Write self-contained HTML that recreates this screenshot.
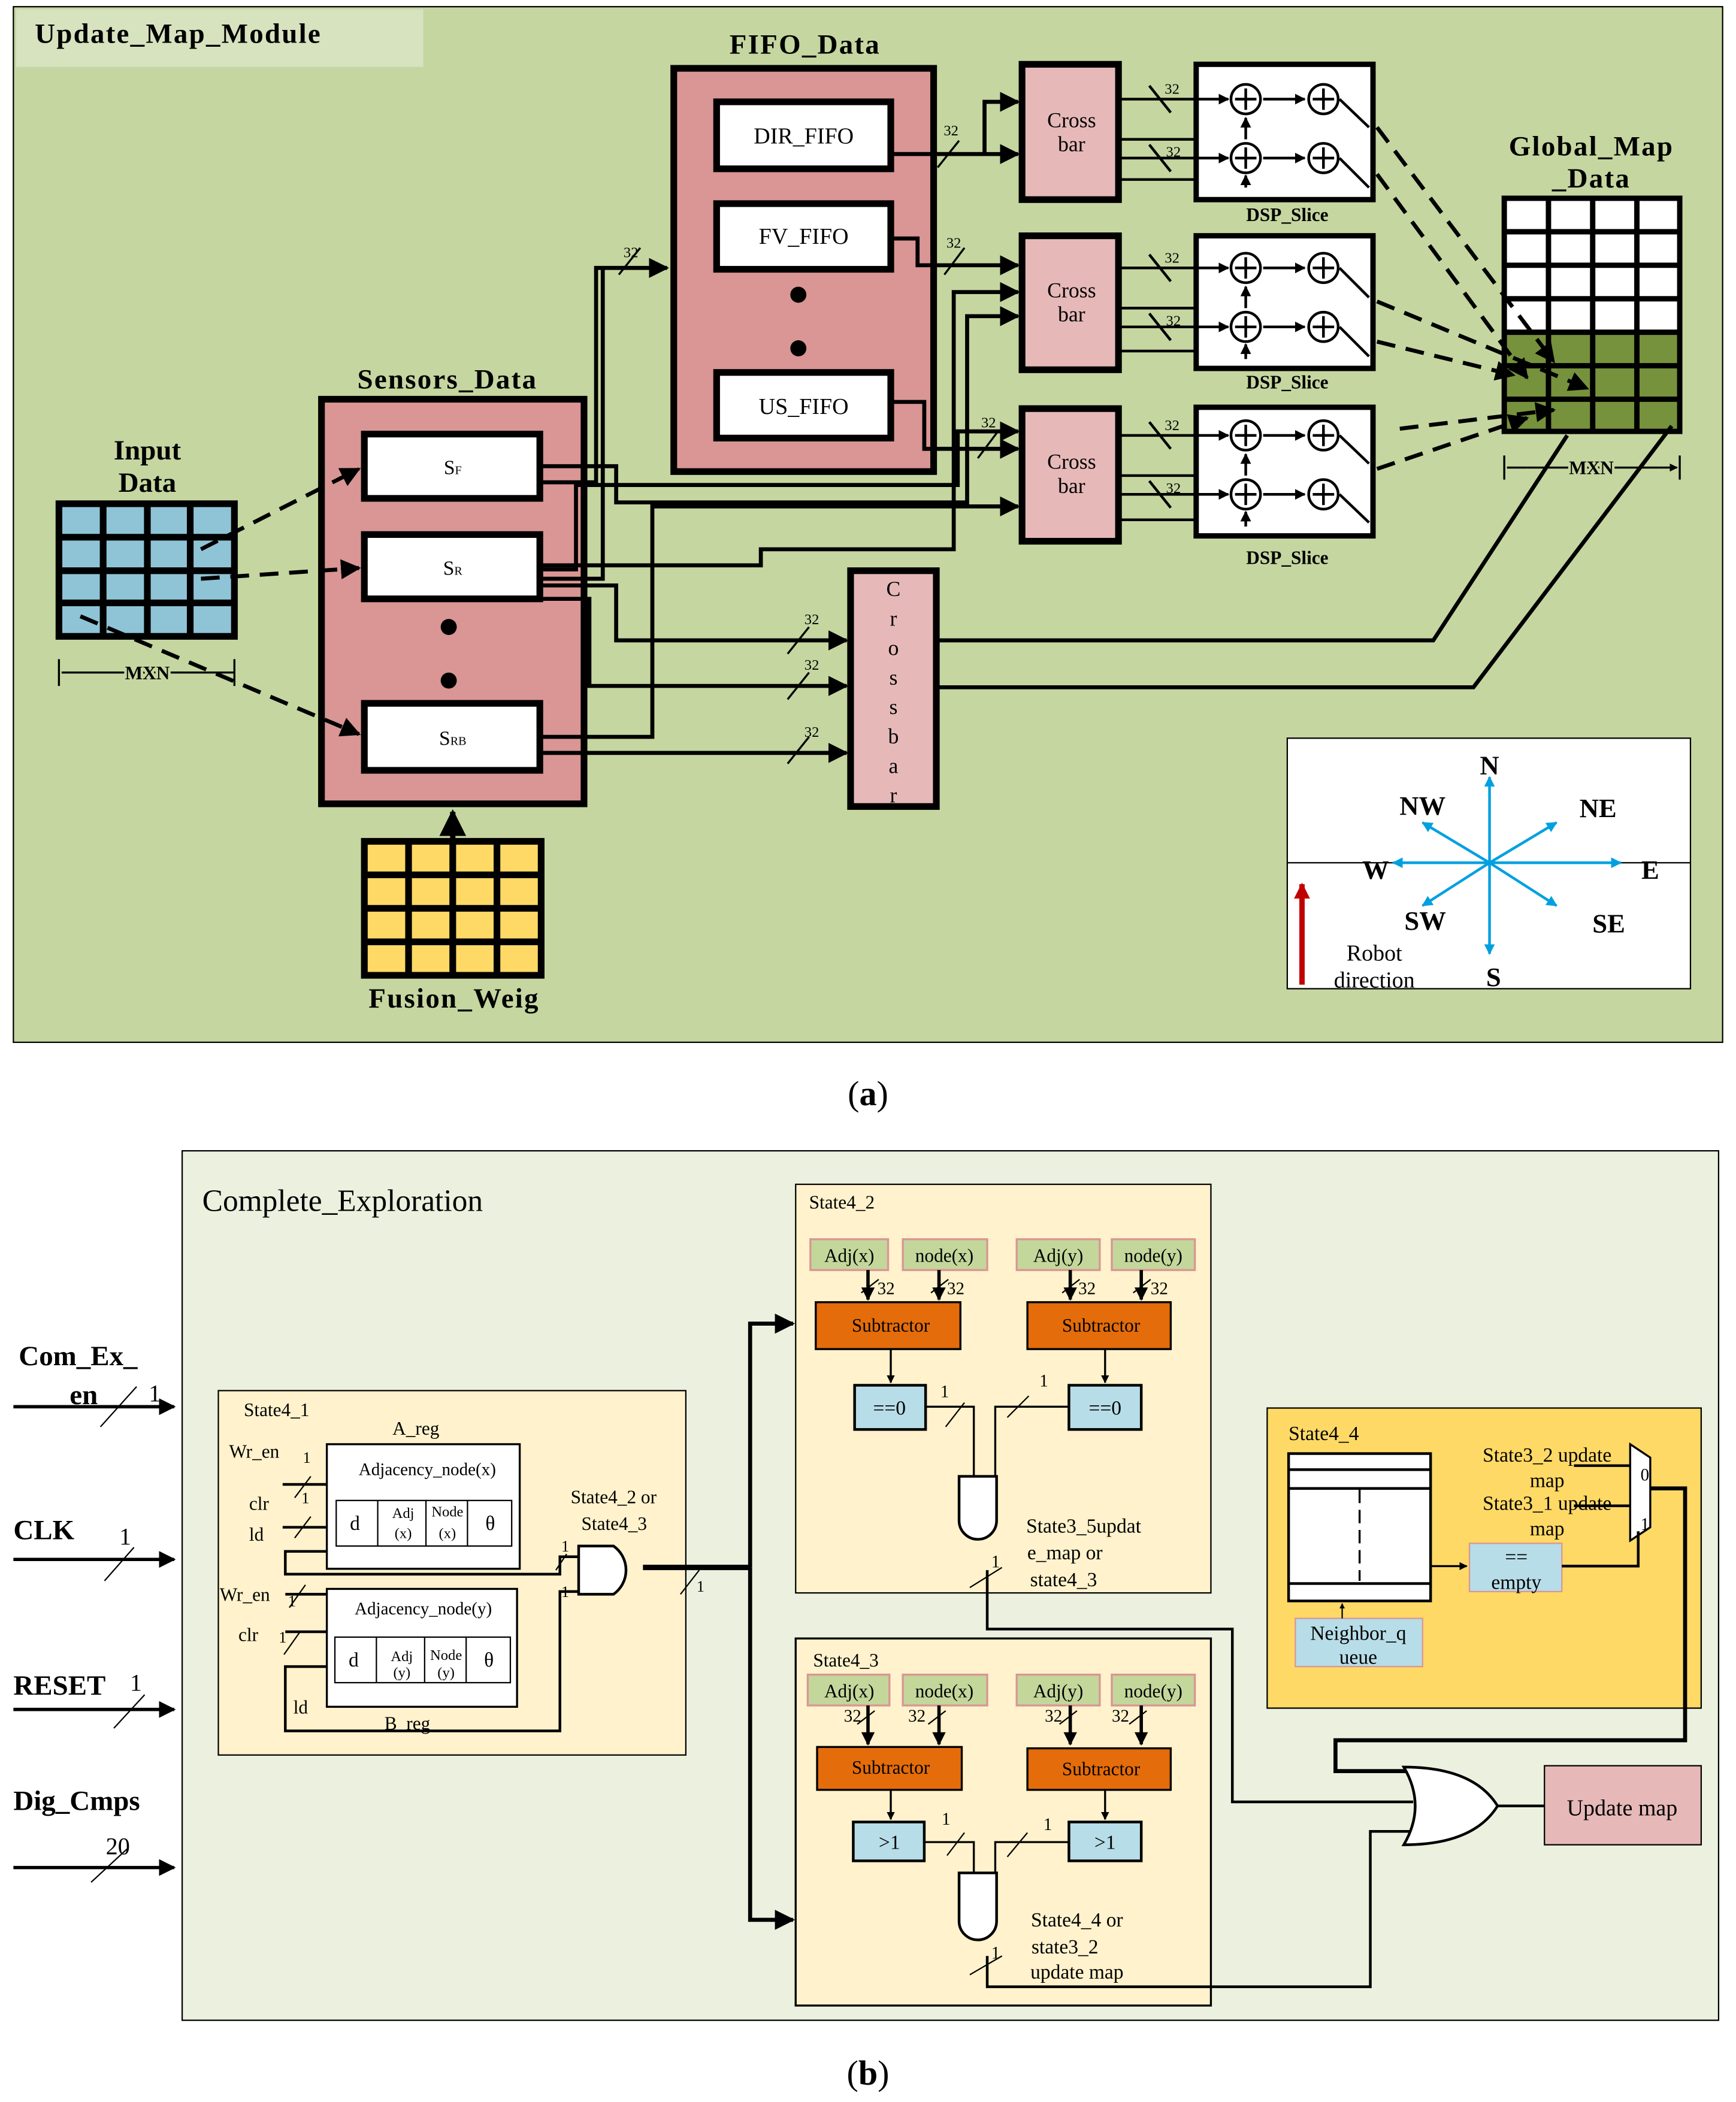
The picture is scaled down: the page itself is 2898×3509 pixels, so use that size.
<!DOCTYPE html>
<html><head><meta charset="utf-8"><style>html,body{margin:0;padding:0;background:#fff}svg{display:block}</style></head><body>
<svg xmlns="http://www.w3.org/2000/svg" width="2898" height="3509" viewBox="0 0 1296 1569" preserveAspectRatio="none" font-family="Liberation Serif, serif">
<defs>
<marker id="ah" viewBox="0 0 10 10" refX="9" refY="5" markerWidth="5" markerHeight="5" orient="auto"><path d="M0,0L10,5L0,10z" fill="#000"/></marker>
<marker id="as" viewBox="0 0 10 10" refX="9" refY="5" markerWidth="4" markerHeight="4" orient="auto"><path d="M0,0L10,5L0,10z" fill="#000"/></marker>
<marker id="ab" viewBox="0 0 10 10" refX="9" refY="5" markerWidth="4" markerHeight="4" orient="auto"><path d="M0,0L10,5L0,10z" fill="#00a0e0"/></marker>
<marker id="ar" viewBox="0 0 10 10" refX="9" refY="5" markerWidth="3" markerHeight="3" orient="auto"><path d="M0,0L10,5L0,10z" fill="#c00000"/></marker>
</defs>
<rect width="1296" height="1569" fill="#fff"/>
<!-- ========== (a) ========== -->
<rect x="10" y="5" width="1276" height="773" fill="#c5d6a0" stroke="#000" stroke-width="1"/>
<rect x="12" y="7" width="304" height="43" fill="#d7e2bf"/>
<text x="26" y="32" font-size="21" font-weight="bold" letter-spacing="1">Update_Map_Module</text>

<!-- FIFO -->
<text x="601" y="40" font-size="21" font-weight="bold" text-anchor="middle" letter-spacing="1">FIFO_Data</text>
<rect x="503" y="51" width="194" height="301" fill="#d99694" stroke="#000" stroke-width="5"/>
<g fill="#fff" stroke="#000" stroke-width="5">
<rect x="535" y="76" width="130" height="50"/><rect x="535" y="152" width="130" height="49"/><rect x="535" y="278" width="130" height="49"/></g>
<g font-size="17" text-anchor="middle"><text x="600" y="107">DIR_FIFO</text><text x="600" y="182">FV_FIFO</text><text x="600" y="309">US_FIFO</text></g>
<circle cx="596" cy="220" r="6"/><circle cx="596" cy="260" r="6"/>

<!-- Sensors -->
<text x="334" y="290" font-size="21" font-weight="bold" text-anchor="middle" letter-spacing="1">Sensors_Data</text>
<rect x="240" y="298" width="196" height="302" fill="#d99694" stroke="#000" stroke-width="5"/>
<g fill="#fff" stroke="#000" stroke-width="5">
<rect x="272" y="324" width="131" height="48"/><rect x="272" y="399" width="131" height="48"/><rect x="272" y="525" width="131" height="50"/></g>
<g font-size="15" text-anchor="middle"><text x="338" y="354">S<tspan font-size="9">F</tspan></text><text x="338" y="429">S<tspan font-size="9">R</tspan></text><text x="338" y="556">S<tspan font-size="9">RB</tspan></text></g>
<circle cx="335" cy="468" r="6"/><circle cx="335" cy="508" r="6"/>

<!-- Input data grid -->
<text x="110" y="343" font-size="21" font-weight="bold" text-anchor="middle">Input</text>
<text x="110" y="367" font-size="21" font-weight="bold" text-anchor="middle">Data</text>
<g stroke="#000" stroke-width="5" fill="#8fc4d6">
<rect x="44" y="376" width="131" height="99"/>
<path d="M77,376V475M110,376V475M142,376V475M44,401H175M44,426H175M44,450H175" fill="none"/></g>
<path d="M44,492V512M175,492V512M46,502H175" stroke="#000" stroke-width="1.5" fill="none"/>
<text x="110" y="507" font-size="14" font-weight="bold" text-anchor="middle" fill="#000" style="paint-order:stroke" stroke="#c5d6a0" stroke-width="4">MXN</text>

<!-- dashed from input -->
<g stroke="#000" stroke-width="3" stroke-dasharray="14,8" fill="none" marker-end="url(#ah)">
<path d="M150,410L268,350"/><path d="M150,432L268,424"/><path d="M60,460L268,548"/></g>

<!-- Fusion -->
<g stroke="#000" stroke-width="5" fill="#ffd966">
<rect x="272" y="628" width="132" height="100"/>
<path d="M305,628V728M338,628V728M371,628V728M272,653H404M272,678H404M272,703H404" fill="none"/></g>
<path d="M338,628V606" stroke="#000" stroke-width="4" marker-end="url(#ah)"/>
<text x="339" y="752" font-size="21" font-weight="bold" text-anchor="middle" letter-spacing="1">Fusion_Weig</text>

<!-- Crossbars -->
<g fill="#e6b9b8" stroke="#000" stroke-width="5">
<rect x="763" y="48" width="72" height="101"/><rect x="763" y="176" width="72" height="100"/><rect x="763" y="305" width="72" height="99"/>
<rect x="635" y="426" width="64" height="176"/></g>
<g font-size="16" text-anchor="middle">
<text x="800" y="95">Cross</text><text x="800" y="113">bar</text>
<text x="800" y="222">Cross</text><text x="800" y="240">bar</text>
<text x="800" y="350">Cross</text><text x="800" y="368">bar</text>
<text x="667" y="445">C</text><text x="667" y="467">r</text><text x="667" y="489">o</text><text x="667" y="511">s</text><text x="667" y="533">s</text><text x="667" y="555">b</text><text x="667" y="577">a</text><text x="667" y="599">r</text></g>

<!-- DSP slices -->
<g id="dsp">
<rect x="893" y="48" width="132" height="101" fill="#fff" stroke="#000" stroke-width="4"/>
</g>
<rect x="893" y="176" width="132" height="99" fill="#fff" stroke="#000" stroke-width="4"/>
<rect x="893" y="304" width="132" height="96" fill="#fff" stroke="#000" stroke-width="4"/>
<g font-size="14" font-weight="bold" text-anchor="middle"><text x="961" y="165">DSP_Slice</text><text x="961" y="290">DSP_Slice</text><text x="961" y="421">DSP_Slice</text></g>
<g fill="none" stroke="#000" stroke-width="2">
<!-- adders rows -->
<g id="ad1"><circle cx="930" cy="74" r="11"/><path d="M922,74H938M930,66V82"/><circle cx="988" cy="74" r="11"/><path d="M980,74H996M988,66V82"/><path d="M943,74H974" marker-end="url(#as)"/><path d="M1000,74L1022,95"/></g>
<g><circle cx="930" cy="118" r="11"/><path d="M922,118H938M930,110V126"/><circle cx="988" cy="118" r="11"/><path d="M980,118H996M988,110V126"/><path d="M943,118H974" marker-end="url(#as)"/><path d="M1000,118L1022,140"/><path d="M930,140V131" marker-end="url(#as)"/><path d="M930,104V88" marker-end="url(#as)"/></g>
<g><circle cx="930" cy="200" r="11"/><path d="M922,200H938M930,192V208"/><circle cx="988" cy="200" r="11"/><path d="M980,200H996M988,192V208"/><path d="M943,200H974" marker-end="url(#as)"/><path d="M1000,200L1022,222"/></g>
<g><circle cx="930" cy="244" r="11"/><path d="M922,244H938M930,236V252"/><circle cx="988" cy="244" r="11"/><path d="M980,244H996M988,236V252"/><path d="M943,244H974" marker-end="url(#as)"/><path d="M1000,244L1022,266"/><path d="M930,268V257" marker-end="url(#as)"/><path d="M930,230V214" marker-end="url(#as)"/></g>
<g><circle cx="930" cy="325" r="11"/><path d="M922,325H938M930,317V333"/><circle cx="988" cy="325" r="11"/><path d="M980,325H996M988,317V333"/><path d="M943,325H974" marker-end="url(#as)"/><path d="M1000,325L1022,346"/></g>
<g><circle cx="930" cy="369" r="11"/><path d="M922,369H938M930,361V377"/><circle cx="988" cy="369" r="11"/><path d="M980,369H996M988,361V377"/><path d="M943,369H974" marker-end="url(#as)"/><path d="M1000,369L1022,390"/><path d="M930,393V382" marker-end="url(#as)"/><path d="M930,355V339" marker-end="url(#as)"/></g>
<!-- crossbar to dsp -->
<path d="M835,74H917" marker-end="url(#as)"/><path d="M835,118H917" marker-end="url(#as)"/><path d="M835,104H893M835,134H893"/>
<path d="M835,200H917" marker-end="url(#as)"/><path d="M835,244H917" marker-end="url(#as)"/><path d="M835,230H893M835,262H893"/>
<path d="M835,325H917" marker-end="url(#as)"/><path d="M835,369H917" marker-end="url(#as)"/><path d="M835,355H893M835,388H893"/>
<path d="M858,64L874,84M858,108L874,128M858,190L874,210M858,234L874,254M858,315L874,335M858,359L874,379"/>
</g>
<g font-size="11" text-anchor="middle"><text x="875" y="70">32</text><text x="876" y="117">32</text><text x="875" y="196">32</text><text x="876" y="243">32</text><text x="875" y="321">32</text><text x="876" y="368">32</text></g>

<!-- Global map -->
<text x="1188" y="116" font-size="21" font-weight="bold" text-anchor="middle" letter-spacing="1">Global_Map</text>
<text x="1188" y="140" font-size="21" font-weight="bold" text-anchor="middle" letter-spacing="1">_Data</text>
<rect x="1123" y="148" width="131" height="100" fill="#fff"/>
<rect x="1123" y="248" width="131" height="74" fill="#76923c"/>
<g stroke="#000" stroke-width="4" fill="none">
<rect x="1123" y="148" width="131" height="174"/>
<path d="M1156,148V322M1189,148V322M1222,148V322M1123,173H1254M1123,198H1254M1123,223H1254M1123,248H1254M1123,273H1254M1123,298H1254"/></g>
<path d="M1123,340V358M1254,340V358" stroke="#000" stroke-width="1.5"/>
<path d="M1140,349H1125M1238,349H1252" stroke="#000" stroke-width="1.5" marker-end="url(#as)"/>
<path d="M1140,349H1238" stroke="#000" stroke-width="1.5"/>
<text x="1188" y="354" font-size="14" font-weight="bold" text-anchor="middle" style="paint-order:stroke" stroke="#c5d6a0" stroke-width="4">MXN</text>
<g stroke="#000" stroke-width="3" stroke-dasharray="14,8" fill="none" marker-end="url(#ah)">
<path d="M1028,95L1160,270"/><path d="M1028,130L1140,282"/><path d="M1028,225L1185,290"/><path d="M1028,255L1130,280"/><path d="M1028,350L1140,312"/><path d="M1045,320L1160,306"/></g>

<!-- wires (a) -->
<g stroke="#000" stroke-width="3" fill="none">
<path d="M665,115H735V76H760" marker-end="url(#ah)"/>
<path d="M665,115H760" marker-end="url(#ah)"/>
<path d="M665,178H685V198H760" marker-end="url(#ah)"/>
<path d="M665,300H690V335H760" marker-end="url(#ah)"/>
<path d="M403,348H460V375H722V236H760" marker-end="url(#ah)"/>
<path d="M403,360H445V200H498" marker-end="url(#ah)"/>
<path d="M403,422H568V410H712V218H760" marker-end="url(#ah)"/>
<path d="M403,432H450V200"/>
<path d="M403,425H430V362H715V322H760" marker-end="url(#ah)"/>
<path d="M403,550H487V378H760" marker-end="url(#ah)"/>
<path d="M403,437H460V478H632" marker-end="url(#ah)"/>
<path d="M403,447H440V512H632" marker-end="url(#ah)"/>
<path d="M403,562H632" marker-end="url(#ah)"/>
<path d="M699,478H1070L1170,325"/>
<path d="M699,513H1100L1248,318"/>
</g>
<g stroke="#000" stroke-width="1.5" fill="none"><path d="M462,205L478,185M700,125L716,105M705,205L720,185M730,342L745,322M588,488L604,468M588,522L604,502M588,570L604,550"/></g>
<g font-size="11" text-anchor="middle"><text x="471" y="192">32</text><text x="710" y="101">32</text><text x="712" y="185">32</text><text x="738" y="319">32</text><text x="606" y="466">32</text><text x="606" y="500">32</text><text x="606" y="550">32</text></g>

<!-- compass -->
<rect x="961" y="551" width="301" height="187" fill="#fff" stroke="#000" stroke-width="1"/>
<path d="M961,644H1262" stroke="#000" stroke-width="1"/>
<g stroke="#00a0e0" stroke-width="2" marker-end="url(#ab)">
<path d="M1112,644V580"/><path d="M1112,644V712"/><path d="M1112,644H1210"/><path d="M1112,644H1040"/>
<path d="M1112,644L1162,614"/><path d="M1112,644L1062,614"/><path d="M1112,644L1162,676"/><path d="M1112,644L1062,676"/></g>
<g font-size="20" font-weight="bold" text-anchor="middle">
<text x="1112" y="578">N</text><text x="1062" y="608">NW</text><text x="1193" y="610">NE</text><text x="1027" y="656">W</text><text x="1232" y="656">E</text><text x="1064" y="694">SW</text><text x="1201" y="696">SE</text><text x="1115" y="736">S</text></g>
<path d="M972,735V660" stroke="#c00000" stroke-width="4" marker-end="url(#ar)"/>
<text x="1026" y="717" font-size="17" text-anchor="middle">Robot</text>
<text x="1026" y="737" font-size="17" text-anchor="middle">direction</text>

<text x="648" y="825" font-size="26" text-anchor="middle">(<tspan font-weight="bold">a</tspan>)</text>

<!-- ========== (b) ========== -->
<rect x="136" y="859" width="1147" height="649" fill="#ebf1de" stroke="#000" stroke-width="1"/>
<text x="151" y="904" font-size="23">Complete_Exploration</text>

<!-- inputs -->
<g font-size="21" font-weight="bold">
<text x="14" y="1019">Com_Ex_</text><text x="52" y="1048">en</text>
<text x="10" y="1149">CLK</text><text x="10" y="1265">RESET</text><text x="10" y="1351">Dig_Cmps</text></g>
<g stroke="#000" stroke-width="2.5" fill="none">
<path d="M10,1050H130" marker-end="url(#ah)"/><path d="M10,1164H130" marker-end="url(#ah)"/><path d="M10,1276H130" marker-end="url(#ah)"/><path d="M10,1394H130" marker-end="url(#ah)"/></g>
<g stroke="#000" stroke-width="1" fill="none"><path d="M75,1065L102,1035M78,1180L100,1155M85,1290L108,1265M68,1405L95,1380"/></g>
<g font-size="18"><text x="111" y="1046">1</text><text x="89" y="1153">1</text><text x="97" y="1262">1</text><text x="79" y="1384">20</text></g>

<!-- State4_1 -->
<rect x="163" y="1038" width="349" height="272" fill="#fff2cc" stroke="#000" stroke-width="1"/>
<g font-size="14"><text x="182" y="1057">State4_1</text><text x="293" y="1071">A_reg</text><text x="171" y="1088">Wr_en</text><text x="186" y="1127">clr</text><text x="186" y="1150">ld</text>
<text x="164" y="1195">Wr_en</text><text x="178" y="1225">clr</text><text x="219" y="1279">ld</text><text x="287" y="1291">B_reg</text><text x="426" y="1122">State4_2 or</text><text x="434" y="1142">State4_3</text></g>
<g font-size="12"><text x="226" y="1092">1</text><text x="225" y="1122">1</text><text x="215" y="1199">1</text><text x="208" y="1226">1</text><text x="419" y="1158">1</text><text x="419" y="1192">1</text><text x="520" y="1188">1</text></g>
<rect x="244" y="1078" width="144" height="93" fill="#fff" stroke="#000" stroke-width="1.5"/>
<rect x="244" y="1186" width="142" height="88" fill="#fff" stroke="#000" stroke-width="1.5"/>
<text x="319" y="1101" font-size="13" text-anchor="middle">Adjacency_node(x)</text>
<text x="316" y="1205" font-size="13" text-anchor="middle">Adjacency_node(y)</text>
<g fill="#fff" stroke="#000" stroke-width="1"><rect x="251" y="1120" width="131" height="34"/><rect x="250" y="1222" width="131" height="34"/></g>
<path d="M282,1120V1154M318,1120V1154M349,1120V1154M281,1222V1256M317,1222V1256M348,1222V1256" stroke="#000"/>
<g font-size="15" text-anchor="middle"><text x="265" y="1142">d</text><text x="366" y="1142">θ</text><text x="264" y="1244">d</text><text x="365" y="1244">θ</text></g>
<g font-size="11" text-anchor="middle"><text x="301" y="1133">Adj</text><text x="301" y="1148">(x)</text><text x="334" y="1132">Node</text><text x="334" y="1148">(x)</text>
<text x="300" y="1240">Adj</text><text x="300" y="1252">(y)</text><text x="333" y="1239">Node</text><text x="333" y="1252">(y)</text></g>
<g stroke="#000" stroke-width="2" fill="none">
<path d="M211,1108H244M211,1140H244M213,1190H244M213,1218H244"/>
<path d="M244,1158H213V1175H418V1162H432"/>
<path d="M244,1244H213V1292H418V1188H432"/>
<path d="M432,1154H458A22,22 0 0 1 458,1190H432Z" fill="#fff"/>
</g>
<path d="M480,1170H560" stroke="#000" stroke-width="4"/>
<g stroke="#000" stroke-width="1"><path d="M220,1118L232,1102M220,1148L232,1132M216,1200L228,1183M212,1235L224,1218M508,1190L522,1172M415,1172L423,1160"/></g>
<g stroke="#000" stroke-width="3" fill="none"><path d="M560,1170V988H592" marker-end="url(#ah)"/><path d="M560,1170V1433H592" marker-end="url(#ah)"/></g>

<!-- State4_2 & 4_3 -->
<g id="s42">
<rect x="594" y="884" width="310" height="305" fill="#fff2cc" stroke="#000" stroke-width="1"/>
<rect x="594" y="1223" width="310" height="274" fill="#fff2cc" stroke="#000" stroke-width="1.5"/>
</g>
<g font-size="14"><text x="604" y="902">State4_2</text><text x="607" y="1244">State4_3</text></g>
<g fill="#c4d79b" stroke="#d99694" stroke-width="1.5">
<rect x="605" y="925" width="58" height="23"/><rect x="674" y="925" width="63" height="23"/><rect x="759" y="925" width="62" height="23"/><rect x="830" y="925" width="62" height="23"/>
<rect x="603" y="1250" width="61" height="23"/><rect x="674" y="1250" width="63" height="23"/><rect x="759" y="1250" width="62" height="23"/><rect x="830" y="1250" width="62" height="23"/></g>
<g font-size="14" text-anchor="middle">
<text x="634" y="942">Adj(x)</text><text x="705" y="942">node(x)</text><text x="790" y="942">Adj(y)</text><text x="861" y="942">node(y)</text>
<text x="634" y="1267">Adj(x)</text><text x="705" y="1267">node(x)</text><text x="790" y="1267">Adj(y)</text><text x="861" y="1267">node(y)</text></g>
<g fill="#e46c0a" stroke="#000" stroke-width="1.5">
<rect x="609" y="972" width="108" height="35"/><rect x="767" y="972" width="107" height="35"/>
<rect x="610" y="1304" width="108" height="32"/><rect x="767" y="1305" width="107" height="31"/></g>
<g font-size="14" text-anchor="middle"><text x="665" y="994">Subtractor</text><text x="822" y="994">Subtractor</text><text x="665" y="1324">Subtractor</text><text x="822" y="1325">Subtractor</text></g>
<g fill="#b7dde8" stroke="#000" stroke-width="2">
<rect x="638" y="1034" width="53" height="33"/><rect x="798" y="1034" width="54" height="33"/>
<rect x="637" y="1360" width="53" height="29"/><rect x="798" y="1360" width="54" height="29"/></g>
<g font-size="15" text-anchor="middle"><text x="664" y="1056">==0</text><text x="825" y="1056">==0</text><text x="664" y="1380">&gt;1</text><text x="825" y="1380">&gt;1</text></g>
<g stroke="#000" stroke-width="2.5" fill="none">
<path d="M648,948V970" marker-end="url(#as)"/><path d="M701,948V970" marker-end="url(#as)"/><path d="M799,948V970" marker-end="url(#as)"/><path d="M852,948V970" marker-end="url(#as)"/>
<path d="M648,1273V1302" marker-end="url(#as)"/><path d="M701,1273V1302" marker-end="url(#as)"/><path d="M799,1273V1302" marker-end="url(#as)"/><path d="M852,1273V1302" marker-end="url(#as)"/></g>
<g stroke="#000" stroke-width="1.5" fill="none">
<path d="M665,1007V1032" marker-end="url(#as)"/><path d="M825,1007V1032" marker-end="url(#as)"/>
<path d="M665,1336V1358" marker-end="url(#as)"/><path d="M825,1336V1358" marker-end="url(#as)"/>
<path d="M691,1050H727V1105M798,1050H743V1105"/>
<path d="M690,1375H727V1400M798,1375H743V1400"/>
<path d="M716,1102H744V1135A14,14 0 0 1 716,1135Z" fill="#fff" stroke-width="2"/>
<path d="M716,1398H744V1434A14,14 0 0 1 716,1434Z" fill="#fff" stroke-width="2"/>
</g>
<g stroke="#000" stroke-width="1"><path d="M643,965L656,955M695,965L708,955M793,965L806,955M846,965L859,955M640,1287L653,1277M693,1287L706,1277M791,1287L804,1277M843,1287L856,1277M706,1065L720,1047M752,1058L768,1042M707,1385L720,1368M752,1386L767,1368M724,1185L748,1170M724,1474L748,1460M1180,1178L1205,1165M1245,1228L1270,1214"/></g>
<g font-size="13"><text x="655" y="966">32</text><text x="707" y="966">32</text><text x="805" y="966">32</text><text x="859" y="966">32</text>
<text x="630" y="1285">32</text><text x="678" y="1285">32</text><text x="780" y="1285">32</text><text x="830" y="1285">32</text>
<text x="702" y="1043">1</text><text x="776" y="1035">1</text><text x="703" y="1362">1</text><text x="779" y="1366">1</text><text x="740" y="1170">1</text><text x="740" y="1462">1</text><text x="1196" y="1166">1</text><text x="1263" y="1216">1</text></g>
<g font-size="15" text-anchor="middle"><text x="809" y="1144">State3_5updat</text><text x="795" y="1164">e_map or</text><text x="794" y="1184">state4_3</text>
<text x="804" y="1438">State4_4 or</text><text x="795" y="1458">state3_2</text><text x="804" y="1477">update map</text></g>

<!-- State4_4 -->
<rect x="946" y="1051" width="324" height="224" fill="#ffd966" stroke="#000" stroke-width="1"/>
<text x="962" y="1075" font-size="15">State4_4</text>
<rect x="962" y="1085" width="106" height="110" fill="#fff" stroke="#000" stroke-width="2"/>
<path d="M962,1097H1068M962,1111H1068M962,1182H1068" stroke="#000" stroke-width="2"/>
<path d="M1015,1112V1180" stroke="#000" stroke-width="1.5" stroke-dasharray="10,5"/>
<rect x="967" y="1208" width="95" height="36" fill="#b7dde8" stroke="#d99694" stroke-width="1"/>
<text x="1014" y="1224" font-size="15" text-anchor="middle">Neighbor_q</text>
<text x="1014" y="1242" font-size="15" text-anchor="middle">ueue</text>
<path d="M1002,1208V1197" stroke="#000" stroke-width="1" marker-end="url(#as)"/>
<rect x="1097" y="1152" width="69" height="36" fill="#b7dde8" stroke="#d99694" stroke-width="1"/>
<text x="1132" y="1167" font-size="15" text-anchor="middle">==</text>
<text x="1132" y="1186" font-size="15" text-anchor="middle">empty</text>
<path d="M1068,1169H1095" stroke="#000" stroke-width="1.5" marker-end="url(#as)"/>
<path d="M1217,1078L1232,1088V1140L1217,1150Z" fill="#fff" stroke="#000" stroke-width="1.5"/>
<text x="1228" y="1105" font-size="13" text-anchor="middle">0</text><text x="1228" y="1142" font-size="13" text-anchor="middle">1</text>
<g font-size="15" text-anchor="middle"><text x="1155" y="1091">State3_2 update</text><text x="1155" y="1110">map</text><text x="1155" y="1127">State3_1 update</text><text x="1155" y="1146">map</text></g>
<g stroke="#000" stroke-width="2" fill="none">
<path d="M1175,1094H1217M1175,1124H1217M1166,1169H1223V1143"/>
<path d="M1232,1111H1258V1299H997V1322H1052" stroke-width="3"/>
<path d="M737,1172V1216H920V1345H1055"/>
<path d="M737,1460V1483H1023V1367H1055"/>
<path d="M1048,1319Q1100,1319 1118,1348Q1100,1377 1048,1377Q1065,1348 1048,1319Z" fill="#fff"/>
<path d="M1118,1348H1153"/>
</g>
<rect x="1153" y="1318" width="117" height="59" fill="#e6b9b8" stroke="#000" stroke-width="1"/>
<text x="1211" y="1355" font-size="17" text-anchor="middle">Update map</text>

<text x="648" y="1556" font-size="26" text-anchor="middle">(<tspan font-weight="bold">b</tspan>)</text>
</svg>
</body></html>
